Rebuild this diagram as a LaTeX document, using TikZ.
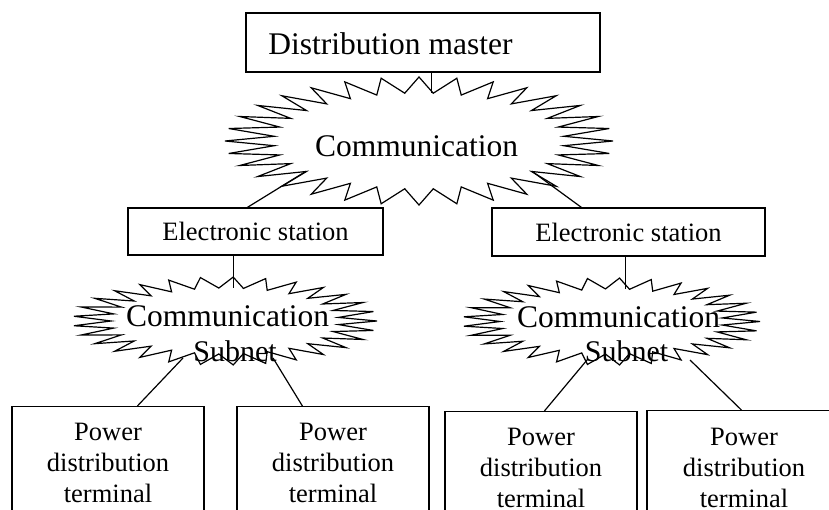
\documentclass[tikz,border=0pt]{standalone}
\usepackage{fontspec}
\setmainfont{Liberation Serif}
\usetikzlibrary{calc,shapes.geometric}
\tikzset{
  box/.style={draw, line width=1.2pt, inner sep=0pt, fill=white},
  lnk/.style={line width=1.2pt},
  burstline/.style={draw, line width=1.2pt, fill=white, line join=miter},
  area/.style={ellipse, inner sep=0pt, draw=none},
  bigtxt/.style={font=\fontsize{31.5}{36}\selectfont, inner sep=0pt},
  midtxt/.style={font=\fontsize{26.5}{31}\selectfont, inner sep=0pt},
  subtxt/.style={font=\fontsize{30}{34}\selectfont, inner sep=0pt},
  termtxt/.style={font=\fontsize{26.5}{31}\selectfont, inner sep=0pt, align=center},
}
\newcommand{\zigburst}[6]{%
  \draw[burstline] plot[variable=\k, samples at={0,...,#5}]
    ({#1+(1-0.25*mod(\k,2))*#3*cos(\k*(360/(#5+1))+#6)},
     {#2+(1-0.25*mod(\k,2))*#4*sin(\k*(360/(#5+1))+#6)}) -- cycle;}
\begin{document}
\begin{tikzpicture}[x=1pt,y=-1pt]
\path[use as bounding box] (0,0) rectangle (829,510);
\clip (0,0) rectangle (829,510);

% master
\node[box, minimum width=354, minimum height=59] (master) at (423,42.5) {};
\node[bigtxt] (mastertext) at (390.5,44) {Distribution master};

% electronic stations
\node[box, midtxt, minimum width=255, minimum height=47] (es1) at (255.5,231.5) {Electronic station};
\node[box, midtxt, minimum width=273, minimum height=48] (es2) at (628.5,232) {Electronic station};

% power distribution terminals
\node[box, minimum width=192, minimum height=140, anchor=north] (p1) at (108,406) {};
\node[box, minimum width=192, minimum height=140, anchor=north] (p2) at (333,406) {};
\node[box, minimum width=192, minimum height=140, anchor=north] (p3) at (541,411) {};
\node[box, minimum width=194, minimum height=140, anchor=north] (p4) at (744,410) {};

% top burst
\zigburst{419}{141}{194}{64}{63}{0}
\node[area, minimum width=290, minimum height=96] (comm) at (419,141) {};

% subnet bursts
\zigburst{225}{321}{152}{44}{57}{0}
\node[area, minimum width=228, minimum height=66] (sub1) at (225,321) {};
\zigburst{611.5}{321.5}{148.5}{43.5}{57}{0}
\node[area, minimum width=222, minimum height=65] (sub2) at (611.5,321.5) {};

% connectors
\draw[lnk] (comm.75) -- (comm.75 |- master.south);
\draw[lnk] (comm.195) -- ($(es1.north west)+(120,0)$);
\draw[lnk] (comm.345) -- ($(es2.north west)+(90,0)$);
\draw[lnk] ($(es1.south west)+(106,0)$) coordinate (e1) -- (e1 |- sub1.north);
\draw[lnk] ($(es2.south west)+(134,0)$) coordinate (e2) -- (e2 |- sub2.north);
\draw[lnk] ($(sub1.center)+(-42,37)$) -- ($(p1.north west)+(126,0)$);
\draw[lnk] ($(sub1.center)+(48,37)$) -- ($(p2.north west)+(66,0)$);
\draw[lnk] ($(sub2.center)+(-24.5,38.5)$) -- ($(p3.north west)+(100,0)$);
\draw[lnk] ($(sub2.center)+(78.5,38.5)$) -- ($(p4.north west)+(95,0)$);

% texts
\node[bigtxt] (commtext) at (416.5,146) {Communication};
\node[bigtxt] (sub1a) at (227.5,316) {Communication};
\node[subtxt] (sub1b) at (235,351) {Subnet};
\node[bigtxt] (sub2a) at (618.5,317.5) {Communication};
\node[subtxt] (sub2b) at (626.5,351.5) {Subnet};

\node[termtxt] (t1) at (108,463) {Power\\distribution\\terminal};
\node[termtxt] (t2) at (333,463) {Power\\distribution\\terminal};
\node[termtxt] (t3) at (541,468) {Power\\distribution\\terminal};
\node[termtxt] (t4) at (744,468) {Power\\distribution\\terminal};
\end{tikzpicture}
\end{document}
